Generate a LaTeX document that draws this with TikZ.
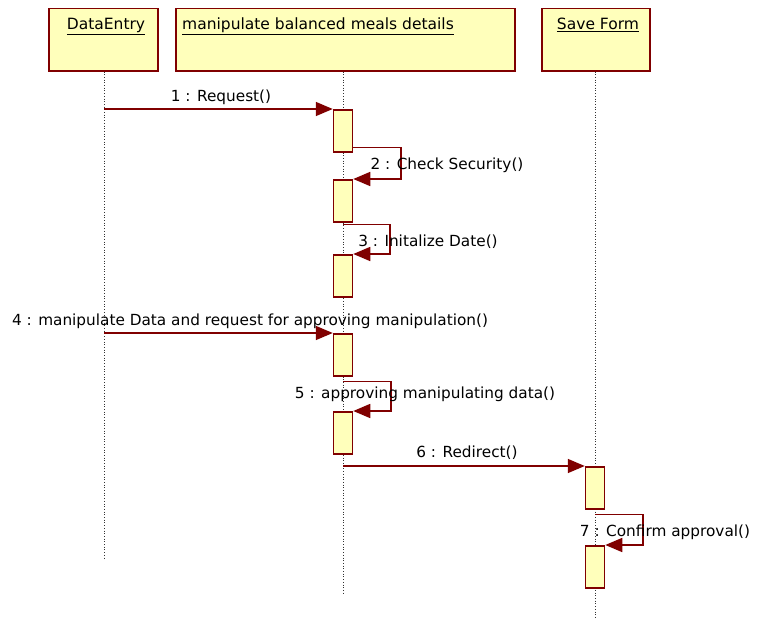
\documentclass[tikz,border=0pt]{standalone}
\usepackage{fontspec}
\setmainfont{DejaVu Sans}
\usepackage[dvipsnames,svgnames,x11names]{xcolor}
\definecolor{umlred}{HTML}{800000}
\definecolor{umlyellow}{HTML}{FFFFBB}
\usepackage{tikz}
\usetikzlibrary{positioning,arrows.meta,calc}

\tikzset{
  headbox/.style={draw=umlred, line width=1.5pt, fill=umlyellow, anchor=north west, inner sep=0pt},
  headtitle/.style={font=\fontsize{15.5}{18}\selectfont, inner sep=0pt, anchor=north},
  actbar/.style={draw=umlred, line width=1.5pt, fill=umlyellow, minimum width=19pt, minimum height=42pt, anchor=north, inner sep=0pt},
  lifeline/.style={dotted, line width=0.7pt, black!80},
  msg/.style={draw=umlred, line width=1.6pt, -{Triangle[length=17pt,width=14pt]}},
  msglabel/.style={font=\fontsize{15.3}{18}\selectfont, inner sep=0pt}
}

\begin{document}
\begin{tikzpicture}[x=1pt,y=-1pt]
  \useasboundingbox (0,0) rectangle (757,618);

  % object heads
  \node[headbox, minimum width=109pt, minimum height=62pt] (de) at (48,8) {};
  \node[headbox, minimum width=339pt, minimum height=62pt] (mb) at (175,8) {};
  \node[headbox, minimum width=108pt, minimum height=62pt] (sf) at (541,8) {};
  \node[headtitle] (de-title) at (106,18) {\underline{DataEntry}};
  \node[headtitle, anchor=north west] (mb-title) at (182,18) {\underline{manipulate balanced meals details}};
  \node[headtitle] (sf-title) at (598,18) {\underline{Save Form}};

  % lifelines
  \coordinate (de-end) at (104,558);
  \coordinate (mb-end) at (343,593);
  \coordinate (sf-end) at (595,618);
  \draw[lifeline] (de.south -| de-end) -- (de-end);
  \draw[lifeline] (mb.south -| mb-end) -- (mb-end);
  \draw[lifeline] (sf.south -| sf-end) -- (sf-end);

  % activation bars
  \node[actbar] (bar1) at (343,109) {};
  \node[actbar] (bar2) at (343,179) {};
  \node[actbar] (bar3) at (343,254) {};
  \node[actbar] (bar4) at (343,333) {};
  \node[actbar] (bar5) at (343,411) {};
  \node[actbar] (bar6) at (595,466) {};
  \node[actbar] (bar7) at (595,545) {};

  % messages
  \coordinate (m1) at (104,109);
  \coordinate (m4) at (104,333);
  \coordinate (m6) at (343,466);
  \draw[msg] (m1) -- (bar1.north west);
  \draw[msg] ($(bar1.south east)+(0,-5)$) -- ++(48,0) |- (bar2.north east);
  \draw[msg] ($(bar2.south)+(0,2)$) -- ++(47,0) |- (bar3.north east);
  \draw[msg] (m4) -- (bar4.north west);
  \draw[msg] ($(bar4.south)+(0,5)$) -- ++(48,0) |- (bar5.north east);
  \draw[msg] (m6) -- (bar6.north west);
  \draw[msg] ($(bar6.south)+(0,5)$) -- ++(48,0) |- (bar7.north east);

  % message labels
  \node[msglabel] (l1) at (221,97) {1 : Request()};
  \node[msglabel] (l2) at (447,165) {2 : Check Security()};
  \node[msglabel] (l3) at (428,242) {3 : Initalize Date()};
  \node[msglabel] (l4) at (250,321) {4 : manipulate Data and request for approving manipulation()};
  \node[msglabel] (l5) at (425,394) {5 : approving manipulating data()};
  \node[msglabel] (l6) at (467,453) {6 : Redirect()};
  \node[msglabel] (l7) at (665,532) {7 : Confirm approval()};
\end{tikzpicture}
\end{document}
